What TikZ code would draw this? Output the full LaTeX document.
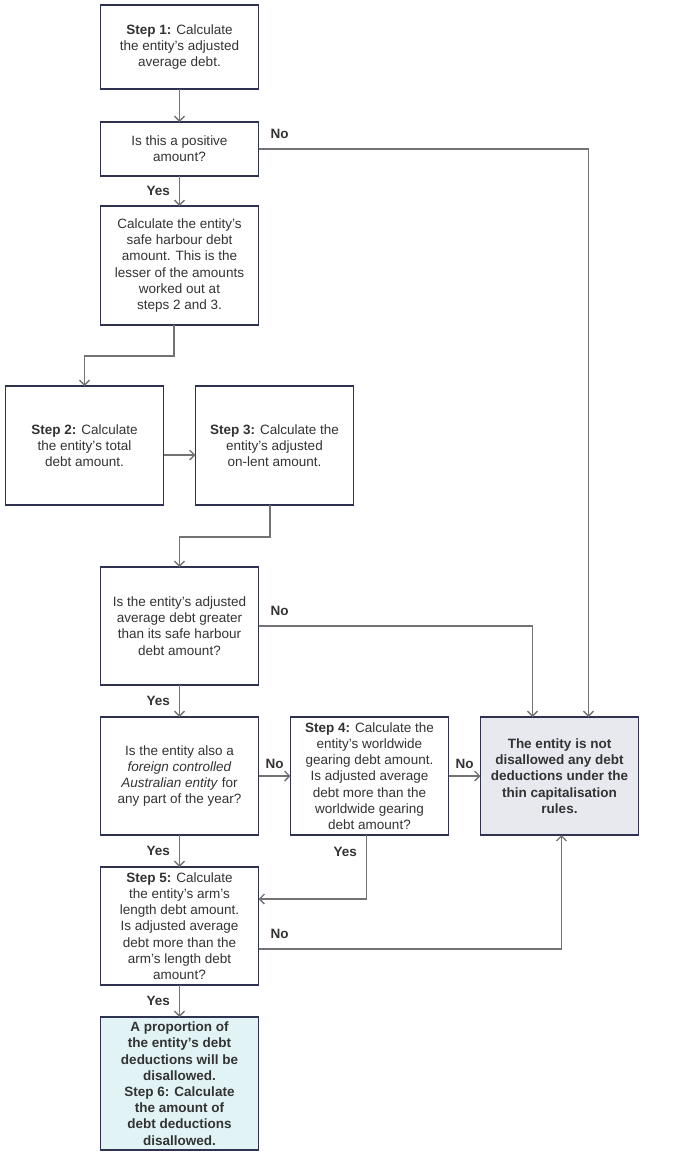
\documentclass[tikz,border=0pt]{standalone}
\usepackage{fontspec}
\setmainfont{Liberation Sans}
\usetikzlibrary{arrows.meta}
\usetikzlibrary{positioning}
\definecolor{navy}{HTML}{2E3250}
\definecolor{linegrey}{HTML}{737373}
\definecolor{textgrey}{HTML}{333333}
\definecolor{paleslate}{HTML}{E8E9EE}
\definecolor{paleaqua}{HTML}{E1F3F5}

\begin{document}
\begin{tikzpicture}[
  x=1pt, y=1pt,
  font=\fontsize{13.5}{16.2}\selectfont,
  stepbox/.style={rectangle, draw=navy, line width=1.2pt, fill=white,
    minimum width=158pt, minimum height=118pt, inner sep=2pt, outer sep=0pt,
    align=center, text=textgrey},
  endbox/.style={stepbox, fill=paleslate,
    font=\fontsize{13.5}{16.2}\selectfont\bfseries},
  propbox/.style={stepbox, fill=paleaqua, minimum height=133pt,
    font=\fontsize{13.5}{16.2}\selectfont\bfseries},
  arrow/.style={-{Straight Barb[length=5pt, width=10pt]}, line width=1.3pt, draw=linegrey},
  lbl/.style={font=\fontsize{13.5}{16.2}\selectfont\bfseries, text=textgrey, inner sep=3pt},
]
\useasboundingbox (0,0) rectangle (689,-1157);

% === Test amount ===
\node[stepbox, minimum height=84pt] (step1) at (179.5,-47)
  {\textbf{Step 1:} Calculate\\the entity’s adjusted\\average debt.};
\node[stepbox, minimum height=54pt, below=33pt of step1] (positive)
  {Is this a positive\\amount?};
\node[stepbox, minimum height=119pt, below=30pt of positive] (harbour)
  {Calculate the entity’s\\safe harbour debt\\amount. This is the\\lesser of the amounts\\worked out at\\steps 2 and 3.};

% === Steps 2 and 3 ===
\node[stepbox, minimum height=119pt, below=61pt of harbour, xshift=-95pt] (step2)
  {\textbf{Step 2:} Calculate\\the entity’s total\\debt amount.};
\node[stepbox, minimum height=119pt, right=32pt of step2] (step3)
  {\textbf{Step 3:} Calculate the\\entity’s adjusted\\on-lent amount.};

% === Safe harbour test ===
\node[stepbox, below=62pt of step2, xshift=95pt] (greater)
  {Is the entity’s adjusted\\average debt greater\\than its safe harbour\\debt amount?};
\node[stepbox, below=32pt of greater] (foreign)
  {Is the entity also a\\\textit{foreign controlled}\\\textit{Australian entity} for\\any part of the year?};
\node[stepbox, right=32pt of foreign] (step4)
  {\textbf{Step 4:} Calculate the\\entity’s worldwide\\gearing debt amount.\\Is adjusted average\\debt more than the\\worldwide gearing\\debt amount?};
\node[endbox, right=32pt of step4] (allowed)
  {The entity is not\\disallowed any debt\\deductions under the\\thin capitalisation\\rules.};

% === Arm's length test ===
\node[stepbox, below=32pt of foreign] (step5)
  {\textbf{Step 5:} Calculate\\the entity’s arm’s\\length debt amount.\\Is adjusted average\\debt more than the\\arm’s length debt\\amount?};
\node[propbox, below=32pt of step5] (proportion)
  {A proportion of\\the entity’s debt\\deductions will be\\disallowed.\\Step 6: Calculate\\the amount of\\debt deductions\\disallowed.};

% === Arrows ===
\draw[arrow] (step1) -- (positive);
\draw[arrow] (positive) -- node[lbl, left=6pt] {Yes} (harbour);
\draw[arrow] (positive.east) -| node[lbl, pos=0, anchor=south west, xshift=8.5pt, yshift=7pt] {No}
  ([xshift=29pt]allowed.north);
\draw[arrow] ([xshift=-5.5pt]harbour.south) -- ++(0,-31) -| (step2.north);
\draw[arrow] ([yshift=-9.5pt]step2.east) -- ([yshift=-9.5pt]step3.west);
\draw[arrow] ([xshift=-4.5pt]step3.south) -- ++(0,-32) -| (greater.north);
\draw[arrow] (greater.east) -| node[lbl, pos=0, anchor=south west, xshift=8.5pt, yshift=7pt] {No}
  ([xshift=-27pt]allowed.north);
\draw[arrow] (greater) -- node[lbl, left=6pt] {Yes} (foreign);
\draw[arrow] (foreign) -- node[lbl, above=4pt] {No} (step4);
\draw[arrow] (step4) -- node[lbl, above=4pt] {No} (allowed);
\draw[arrow] (foreign) -- node[lbl, left=6pt] {Yes} (step5);
\draw[arrow] ([xshift=-3pt]step4.south) |- node[lbl, pos=0.13, left=6pt] {Yes}
  ([yshift=27pt]step5.east);
\draw[arrow] ([yshift=-23pt]step5.east) -| node[lbl, pos=0, anchor=south west, xshift=8.5pt, yshift=7pt] {No}
  ([xshift=2pt]allowed.south);
\draw[arrow] (step5) -- node[lbl, left=6pt] {Yes} (proportion);

\end{tikzpicture}
\end{document}
